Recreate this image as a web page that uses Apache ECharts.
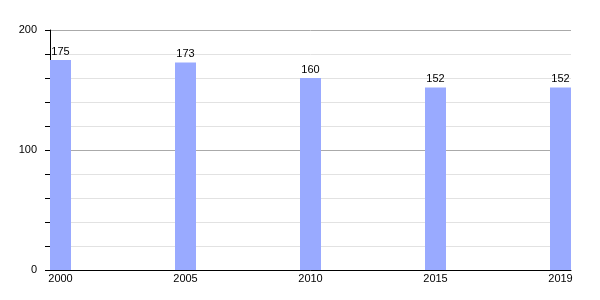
<!DOCTYPE html>
<html><head><meta charset="utf-8">
<script src="https://cdn.jsdelivr.net/npm/echarts@6/dist/echarts.min.js"></script>
<style>html,body{margin:0;padding:0;background:#fff}#c{width:600px;height:300px}</style>
</head><body><div id="c"></div>
<script>
const categories = ['2000', '2005', '2010', '2015', '2019'];
const values = [175, 173, 160, 152, 152];
const yTickLabels = [0, 100, 200];

const chart = echarts.init(document.getElementById('c'), null, {renderer: 'canvas'});
const idx = categories.map((_, i) => i);
chart.setOption({
  animation: false,
  backgroundColor: '#fff',
  textStyle: {fontFamily: 'Liberation Sans, Arial, sans-serif'},
  grid: {left: 50, right: 29, top: 30, bottom: 30},
  xAxis: {
    type: 'value', min: -0.084, max: 4.084,
    axisLine: {show: true, onZero: false, lineStyle: {color: '#000', width: 1}},
    axisTick: {show: false},
    splitLine: {show: false},
    axisLabel: {customValues: idx, formatter: v => categories[Math.round(v)], color: '#000', fontSize: 11, margin: 3, showMinLabel: true, showMaxLabel: true}
  },
  yAxis: {
    type: 'value', min: 0, max: 200, interval: 20,
    axisLine: {show: true, onZero: false, lineStyle: {color: '#000', width: 1}},
    axisTick: {show: true, length: 5, lineStyle: {color: '#000'}},
    axisLabel: {color: '#000', fontSize: 11, margin: 13,
      formatter: v => yTickLabels.indexOf(v) >= 0 ? String(v) : ''},
    splitLine: {show: true, lineStyle: {color: ['#aaaaaa', '#e2e2e2', '#e2e2e2', '#e2e2e2', '#e2e2e2'], width: 1}}
  },
  series: [{
    type: 'bar',
    data: values.map((v, i) => [i, v]),
    barWidth: 21,
    itemStyle: {color: '#99aaff'},
    label: {show: true, position: 'top', distance: 3, color: '#000', fontSize: 11}
  }]
});
</script></body></html>
